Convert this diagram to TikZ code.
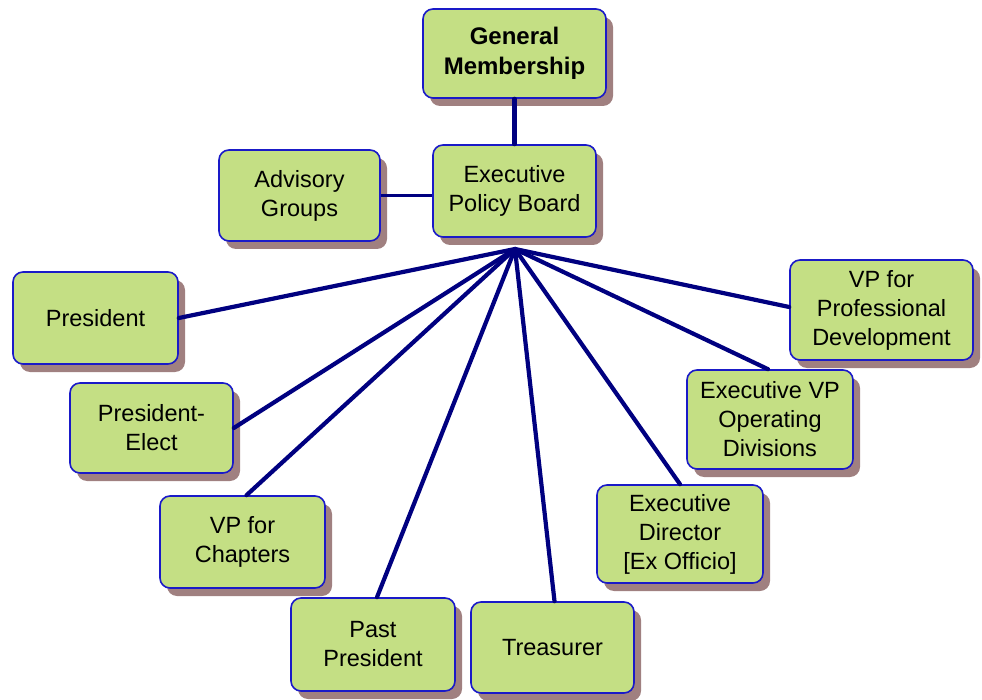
\documentclass[tikz,border=0pt]{standalone}
\usepackage{fontspec}
\setmainfont{Liberation Sans}
\usetikzlibrary{shadows}
\definecolor{boxfill}{HTML}{C4DF84}
\definecolor{boxline}{HTML}{1A1AC8}
\definecolor{shadowc}{HTML}{A08080}
\definecolor{linkc}{HTML}{000080}
\begin{document}
\begin{tikzpicture}[x=1pt,y=-1pt,
  box/.style={draw=boxline, line width=1.6pt, fill=boxfill, rounded corners=10pt,
    align=center, inner sep=0pt, font=\fontsize{23.5}{29}\selectfont,
    drop shadow={shadow xshift=7pt, shadow yshift=-8pt, fill=shadowc, opacity=1}},
  link/.style={draw=linkc, line width=4.2pt, line cap=round}]
\useasboundingbox (0,0) rectangle (982,700);
\node[box, minimum width=183pt, minimum height=89pt, font=\fontsize{24}{30}\selectfont\bfseries] (gm) at (514.5,53.5) {General\\Membership};
\node[box, minimum width=163pt, minimum height=92pt] (epb) at (514.5,191) {Executive\\Policy Board};
\node[box, minimum width=161pt, minimum height=91pt] (adv) at (299.5,195.5) {Advisory\\Groups};
\node[box, minimum width=165pt, minimum height=92pt] (pres) at (95.5,318) {President};
\node[box, minimum width=163pt, minimum height=90pt] (pe) at (151.5,428) {President-\\Elect};
\node[box, minimum width=165pt, minimum height=92pt] (vpc) at (242.5,542) {VP for\\Chapters};
\node[box, minimum width=164pt, minimum height=93pt] (past) at (373,644.5) {Past\\President};
\node[box, minimum width=163pt, minimum height=91pt] (tre) at (552.5,647.5) {Treasurer};
\node[box, minimum width=166pt, minimum height=98pt] (ed) at (680,534) {Executive\\Director\\{[Ex Officio]}};
\node[box, minimum width=166pt, minimum height=99pt] (evp) at (770,419.5) {Executive VP\\Operating\\Divisions};
\node[box, minimum width=183pt, minimum height=100pt] (vppd) at (881.5,310) {VP for\\Professional\\Development};
\coordinate (hub) at (515,249);
\draw[link] (gm.south) -- (epb.north);
\draw[link, line width=3.2pt, line cap=butt] (adv.east) -- (epb.west |- adv.east);
\draw[link] (hub) -- (pres.east);
\draw[link] (hub) -- (pe.east);
\draw[link] (hub) -- ([xshift=4pt]vpc.north);
\draw[link] (hub) -- ([xshift=4pt]past.north);
\draw[link] (hub) -- ([xshift=2pt]tre.north);
\draw[link] (hub) -- (ed.north);
\draw[link] (hub) -- ([xshift=-2pt]evp.north);
\draw[link] (hub) -- ([yshift=3pt]vppd.west);
\end{tikzpicture}
\end{document}
